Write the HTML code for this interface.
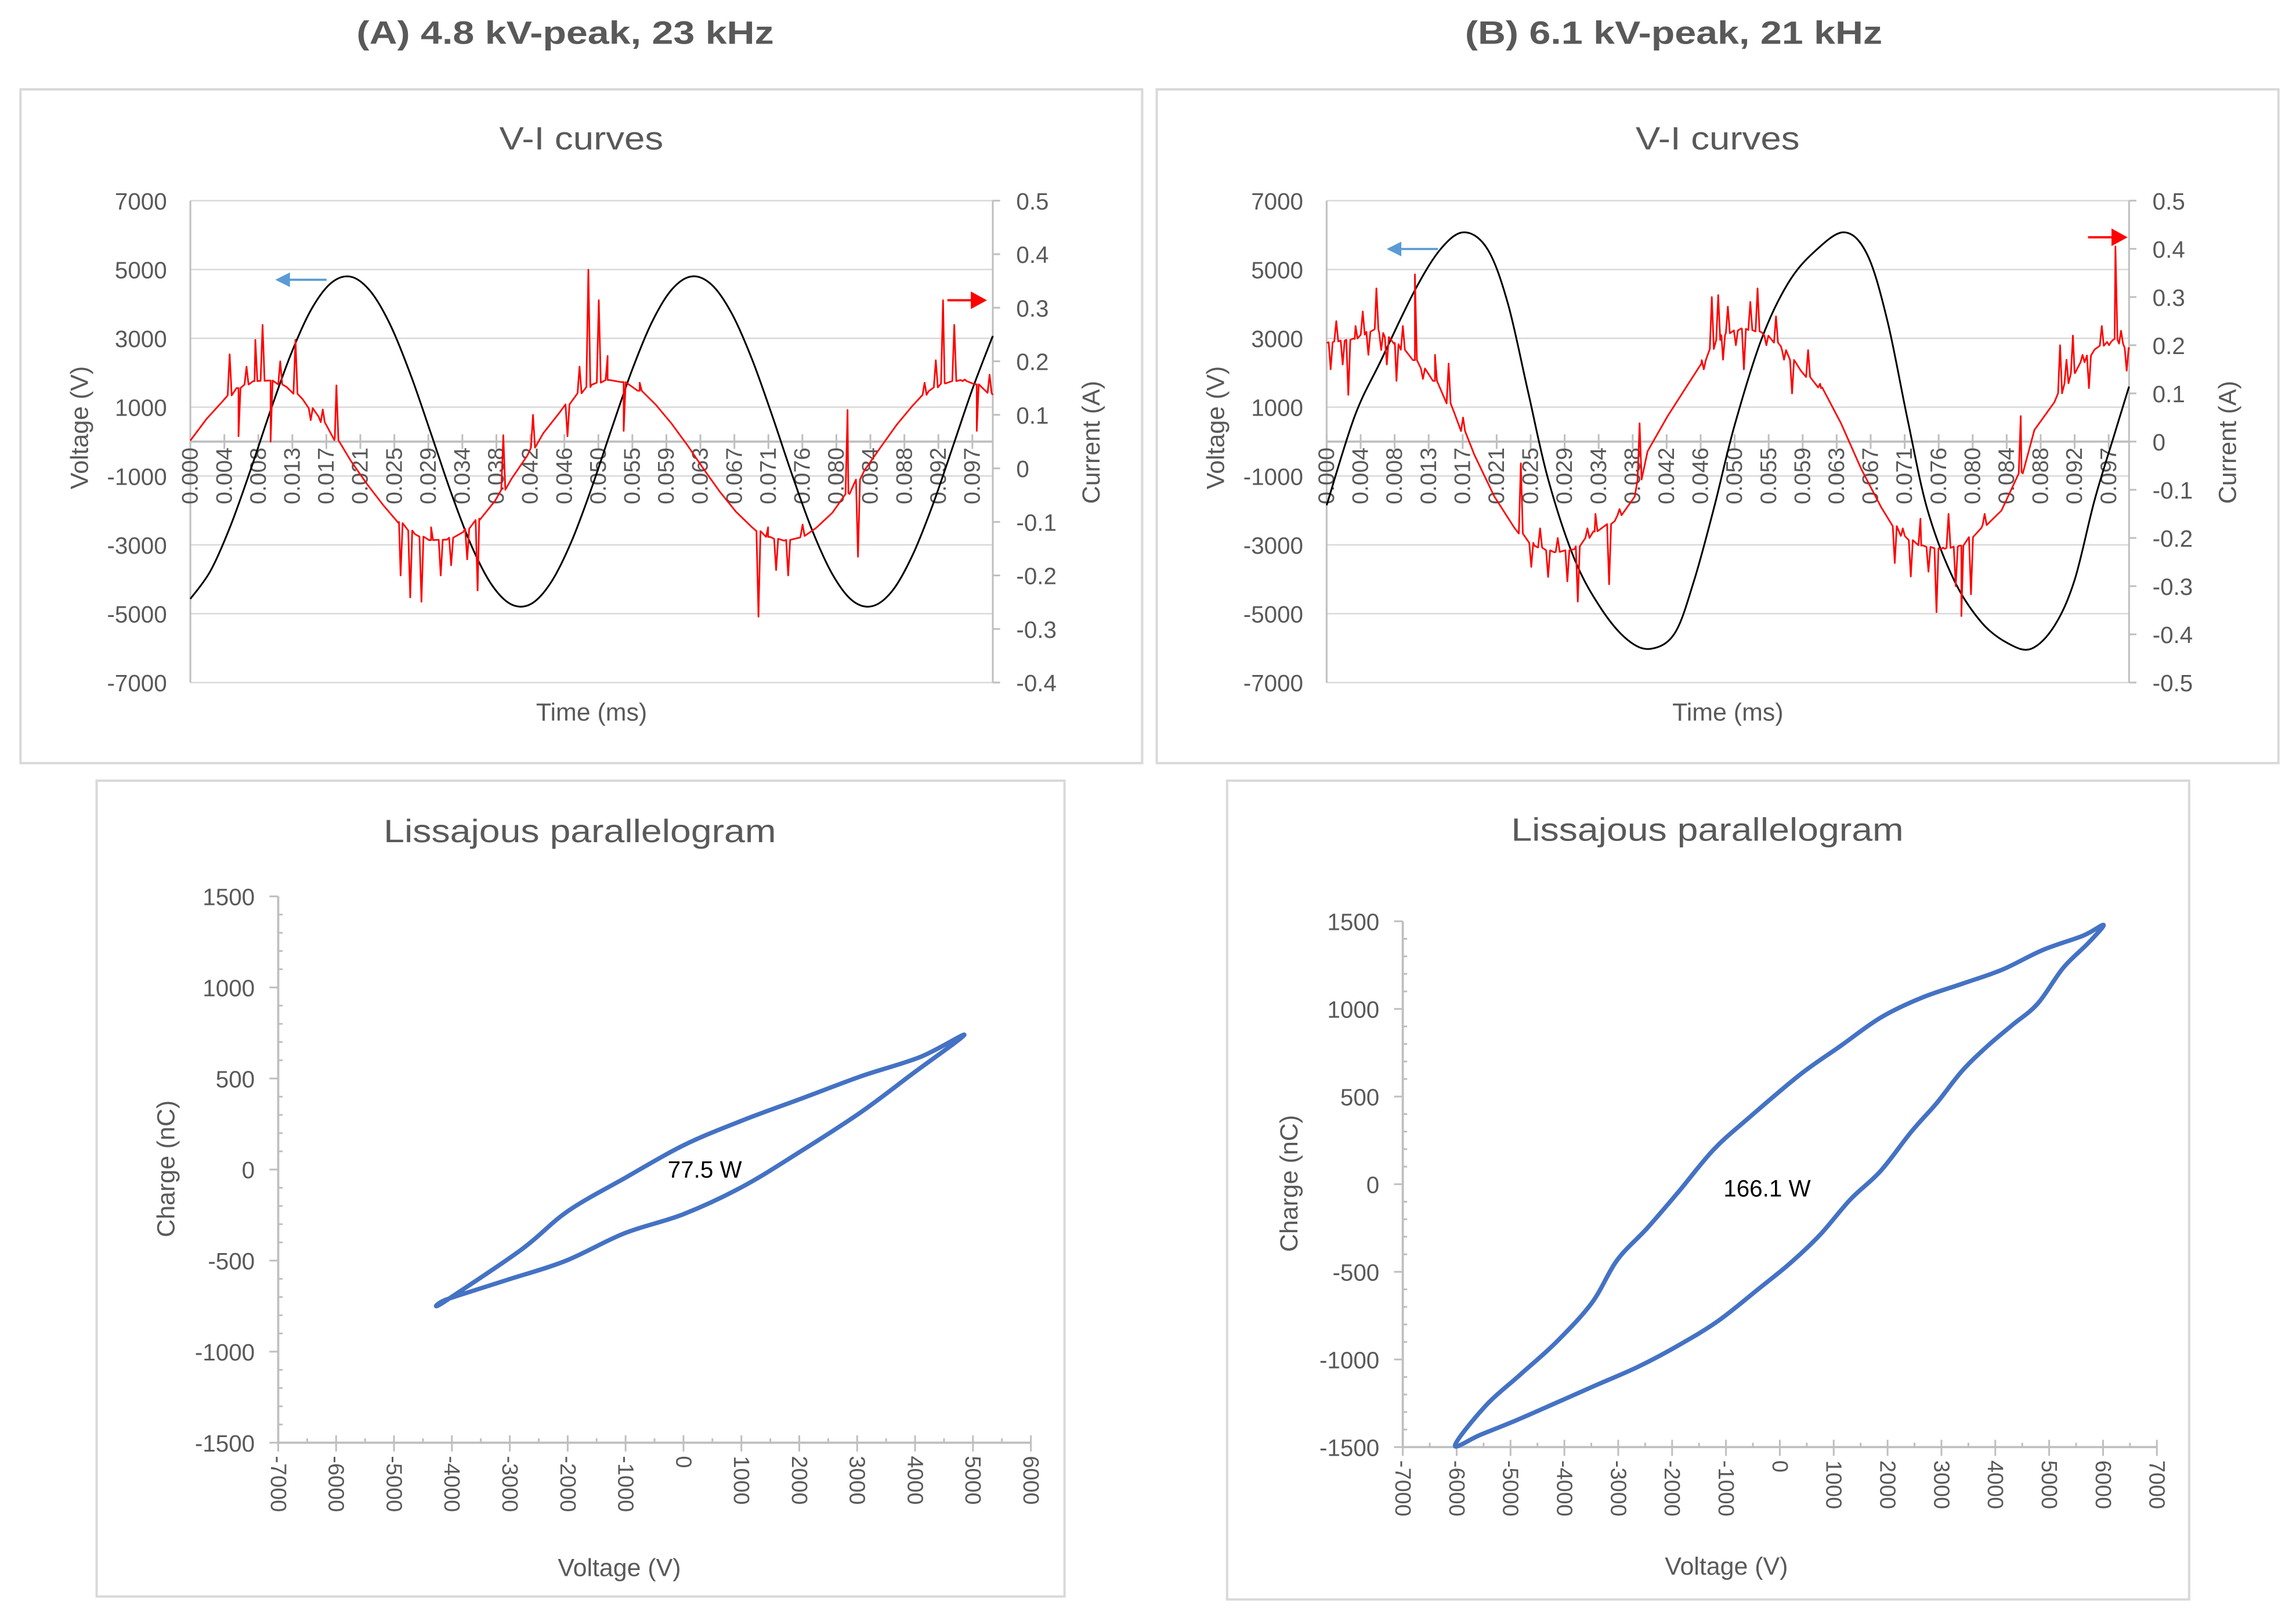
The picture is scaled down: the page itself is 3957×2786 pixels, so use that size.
<!DOCTYPE html>
<html><head><meta charset="utf-8"><title>V-I curves and Lissajous</title>
<style>
html,body{margin:0;padding:0;background:#fff;}
svg{display:block;}
text{font-family:"Liberation Sans",Arial,sans-serif;fill:#595959;}
</style></head>
<body>
<svg id="root" xmlns="http://www.w3.org/2000/svg" width="3957" height="2786" viewBox="0 0 1568 1104" preserveAspectRatio="none">
<rect x="0" y="0" width="1568" height="1104" fill="#fff"/>
<text x="386" y="30" text-anchor="middle" font-size="22" font-weight="bold" textLength="285" lengthAdjust="spacingAndGlyphs">(A) 4.8 kV-peak, 23 kHz</text>
<text x="1143" y="30" text-anchor="middle" font-size="22" font-weight="bold" textLength="285" lengthAdjust="spacingAndGlyphs">(B) 6.1 kV-peak, 21 kHz</text>
<g id="viA"></g>
<g id="viB"></g>
<g id="lsA"></g>
<g id="lsB"></g>
</svg>
<script>
// ---------- data: chart A voltage (t = i*0.0025 ms) ----------
const voltA = [-4570,-3760,-2450,-825,910,2520,3810,4600,4790,4350,3350,1910,225,-1490,-3010,-4140,-4730,-4710,-4070,-2900,-1350,375,2050,3460,4420,4800,4550,3710,2390,760,-970,-2580,-3850,-4620,-4780,-4330,-3300,-1850,-160,1550,3070];
const voltAStep = 0.0025;
// chart A current (t = i*0.002 ms)
const currA = [0.052,0.092,0.125,0.150,0.163,0.164,0.152,0.129,0.096,0.057,0.014,-0.029,-0.068,-0.100,-0.123,-0.134,-0.133,-0.119,-0.094,-0.060,-0.020,0.024,0.066,0.104,0.135,0.156,0.165,0.161,0.145,0.119,0.083,0.042,-0.002,-0.044,-0.081,-0.110,-0.128,-0.135,-0.129,-0.111,-0.083,-0.046,-0.004,0.039,0.081,0.117,0.144,0.160,0.165,0.157,0.137];
const currAStep = 0.002;
const spikeAT = [0.0049,0.0060,0.0070,0.0081,0.0090,0.0100,0.0112,0.0131,0.0150,0.0165,0.0182,0.0262,0.0274,0.0288,0.0300,0.0312,0.0325,0.0345,0.0358,0.0390,0.0427,0.0470,0.0485,0.0496,0.0509,0.0520,0.0540,0.0560,0.0708,0.0720,0.0730,0.0745,0.0763,0.0819,0.0832,0.0915,0.0929,0.0938,0.0952,0.0965,0.0980,0.0996];
const spikeAV = [0.213,0.060,0.19,0.240,0.268,0.050,0.20,0.240,0.090,0.11,0.155,-0.20,-0.241,-0.249,-0.11,-0.20,-0.181,-0.17,-0.228,0.062,0.100,0.060,0.19,0.371,0.314,0.21,0.070,0.16,-0.277,-0.11,-0.190,-0.20,-0.105,0.109,-0.165,0.16,0.202,0.314,0.268,0.166,0.07,0.175];
// ---------- chart B ----------
const voltBT = [0,0.0035,0.0068,0.0110,0.0143,0.0172,0.0201,0.0226,0.0251,0.0276,0.0309,0.0342,0.0375,0.0404,0.0434,0.0458,0.0483,0.0508,0.0542,0.0575,0.0608,0.0645,0.0674,0.0699,0.0724,0.0749,0.0782,0.0816,0.0849,0.0878,0.0907,0.0932,0.0957,0.0982,0.1];
const voltBV = [-1850,740,2370,4400,5620,6080,5570,4000,1450,-1090,-3420,-4850,-5760,-6020,-5560,-4030,-1900,440,2980,4600,5520,6080,5420,3490,640,-2000,-4030,-5250,-5860,-6020,-5350,-4030,-1700,230,1600];
const currBT = [0,0.0035,0.0060,0.0085,0.0110,0.0135,0.0159,0.0184,0.0209,0.0234,0.0259,0.0284,0.0309,0.0334,0.0359,0.0384,0.0400,0.0425,0.0450,0.0467,0.0492,0.0517,0.0542,0.0566,0.0591,0.0616,0.0641,0.0666,0.0691,0.0716,0.0741,0.0766,0.0791,0.0816,0.0841,0.0866,0.0882,0.0907,0.0932,0.0957,0.0982,0.1];
const currBV = [0.205,0.213,0.235,0.205,0.169,0.126,0.060,-0.027,-0.114,-0.179,-0.216,-0.230,-0.223,-0.187,-0.165,-0.114,-0.020,0.053,0.118,0.162,0.220,0.235,0.227,0.198,0.147,0.111,0.038,-0.056,-0.136,-0.194,-0.216,-0.223,-0.216,-0.179,-0.143,-0.063,0.024,0.082,0.147,0.191,0.213,0.191];
const spikeBT = [0.0005,0.0012,0.0020,0.0027,0.0036,0.0045,0.0052,0.0062,0.0068,0.0075,0.0087,0.0095,0.0110,0.0120,0.0135,0.0152,0.0170,0.0242,0.0255,0.0266,0.0276,0.0288,0.0300,0.0313,0.0325,0.0335,0.0352,0.0365,0.0390,0.0470,0.0480,0.0488,0.0494,0.0500,0.0510,0.0520,0.0528,0.0537,0.0548,0.0560,0.0570,0.0580,0.0600,0.0615,0.0708,0.0718,0.0728,0.0740,0.0750,0.0760,0.0768,0.0775,0.0784,0.0791,0.0803,0.0820,0.0865,0.0914,0.0922,0.0930,0.0942,0.0950,0.0966,0.0975,0.0983,0.0990,0.0997];
const spikeBV = [0.150,0.250,0.160,0.097,0.240,0.270,0.180,0.318,0.190,0.160,0.126,0.240,0.347,0.130,0.180,0.162,0.050,-0.045,-0.260,-0.180,-0.281,-0.200,-0.290,-0.332,-0.180,-0.150,-0.296,-0.140,0.038,0.150,0.300,0.304,0.170,0.280,0.200,0.150,0.290,0.318,0.200,0.260,0.170,0.100,0.190,0.120,-0.252,-0.180,-0.280,-0.160,-0.270,-0.354,-0.220,-0.150,-0.300,-0.362,-0.317,-0.150,0.053,0.200,0.170,0.220,0.180,0.111,0.240,0.200,0.405,0.230,0.147];
const timeLabels = ["0.000","0.004","0.008","0.013","0.017","0.021","0.025","0.029","0.034","0.038","0.042","0.046","0.050","0.055","0.059","0.063","0.067","0.071","0.076","0.080","0.084","0.088","0.092","0.097"];
const voltTicks = [7000,5000,3000,1000,-1000,-3000,-5000,-7000];
const currTicksA = [0.5,0.4,0.3,0.2,0.1,0,-0.1,-0.2,-0.3,-0.4];
const currTicksB = [0.5,0.4,0.3,0.2,0.1,0,-0.1,-0.2,-0.3,-0.4,-0.5];
// ---------- Lissajous ----------
const lissAV = [-4150,-2810,-2005,-1020,0,1020,2040,3065,4090,4850,3960,3065,2040,1020,0,-1020,-2040,-3065,-4090,-4150];
const lissAQ = [-730,-442,-230,-48,133,270,390,512,618,739,527,315,103,-94,-245,-350,-502,-608,-713,-730];
const lissBV = [-6030,-5470,-4810,-4150,-3490,-3020,-2460,-1890,-1230,-570,370,1120,1870,2620,3380,4130,4880,5630,6010,5730,5260,4790,4320,3850,3380,2910,2440,1870,1310,740,180,-390,-1140,-1890,-2640,-3400,-4150,-4900,-5560,-6030];
const lissBQ = [-1490,-1267,-1084,-901,-677,-433,-250,-47,197,380,624,787,950,1062,1143,1224,1336,1418,1479,1377,1234,1031,909,787,645,462,299,75,-87,-291,-454,-596,-779,-921,-1043,-1145,-1247,-1348,-1430,-1490];
const lissAXTicks = [-7000,-6000,-5000,-4000,-3000,-2000,-1000,0,1000,2000,3000,4000,5000,6000];
const lissBXTicks = [-7000,-6000,-5000,-4000,-3000,-2000,-1000,0,1000,2000,3000,4000,5000,6000,7000];
const lissYTicks = [1500,1000,500,0,-500,-1000,-1500];
const powerA = "77.5 W";
const powerB = "166.1 W";

const NS = "http://www.w3.org/2000/svg";
function mk(parent, tag, attrs, txt){
  const e = document.createElementNS(NS, tag);
  for (const k in attrs) e.setAttribute(k, attrs[k]);
  if (txt !== undefined) e.textContent = txt;
  parent.appendChild(e);
  return e;
}
function lin(d0,d1,r0,r1){ return v => r0 + (v-d0)/(d1-d0)*(r1-r0); }
function interp(ts, vs, t){
  for (let i=0;i<ts.length-1;i++){
    if (t>=ts[i] && t<=ts[i+1]) return vs[i] + (vs[i+1]-vs[i])*(t-ts[i])/(ts[i+1]-ts[i]);
  }
  return vs[vs.length-1];
}
// Catmull-Rom smooth path through pixel points
function smooth(p, closed){
  let d = 'M'+p[0][0].toFixed(2)+' '+p[0][1].toFixed(2);
  const n = p.length;
  for (let i=0;i<n-1;i++){
    const p0 = p[i>0?i-1:(closed?n-2:0)], p1=p[i], p2=p[i+1], p3=p[i+2<n?i+2:(closed?1:n-1)];
    const c1=[p1[0]+(p2[0]-p0[0])/6, p1[1]+(p2[1]-p0[1])/6];
    const c2=[p2[0]-(p3[0]-p1[0])/6, p2[1]-(p3[1]-p1[1])/6];
    d += ` C${c1[0].toFixed(2)} ${c1[1].toFixed(2)} ${c2[0].toFixed(2)} ${c2[1].toFixed(2)} ${p2[0].toFixed(2)} ${p2[1].toFixed(2)}`;
  }
  return d;
}

function drawVI(g, c){
  const box = mk(g,'rect',{x:c.bx,y:61,width:766,height:460,fill:'#fff',stroke:'#d9d9d9','stroke-width':1.6});
  
  
  const t = mk(g,'text',{x:c.bx+383,y:102,'text-anchor':'middle','font-size':22,textLength:112,lengthAdjust:'spacingAndGlyphs'},'V-I curves');
  
  
  const x = lin(0,0.1,c.x0,c.x1);
  const yv = lin(-7000,7000,466,137);
  const yi = lin(c.iMin,c.iMax,466,137);
  voltTicks.forEach(v=>{
    const gl = mk(g,'line',{x1:c.x0,x2:c.x1,y1:yv(v),y2:yv(v),stroke:'#d9d9d9','stroke-width':1});
    
    
    const tl = mk(g,'text',{x:c.x0-16,y:yv(v)+6,'text-anchor':'end','font-size':16},String(v));
    
    
  });
  const la = mk(g,'line',{x1:c.x0,x2:c.x0,y1:137,y2:466,stroke:'#bfbfbf','stroke-width':1.2});
  
  
  const ra = mk(g,'line',{x1:c.x1,x2:c.x1,y1:137,y2:466,stroke:'#bfbfbf','stroke-width':1.2});
  
  
  c.iTicks.forEach(v=>{
    const tk = mk(g,'line',{x1:c.x1,x2:c.x1+5,y1:yi(v),y2:yi(v),stroke:'#bfbfbf','stroke-width':1.2});
    
    
    const tl = mk(g,'text',{x:c.x1+16,y:yi(v)+6,'font-size':16},String(v));
    
    
  });
  const za = mk(g,'line',{x1:c.x0,x2:c.x1,y1:yv(0),y2:yv(0),stroke:'#bfbfbf','stroke-width':1.5});
  
  
  timeLabels.forEach((lab,i)=>{
    const tx = x(i*0.1/23.6);
    const tk = mk(g,'line',{x1:tx,x2:tx,y1:yv(0)-5,y2:yv(0)+5,stroke:'#bfbfbf','stroke-width':1.2});
    
    
    const tl = mk(g,'text',{x:0,y:0,'text-anchor':'end','font-size':15.5,transform:`translate(${tx+5},${yv(0)+4}) rotate(-90)`},lab);
    
    
  });
  // current series with spikes (drawn first, under voltage? reference: red over black mostly) 
  const pts = c.iT.map((tt,i)=>[tt,c.iV[i]]);
  c.sT.forEach((st,i)=>{
    const b = interp(c.iT,c.iV,st);
    pts.push([st-0.00025,b],[st,c.sV[i]],[st+0.00025,b]);
  });
  pts.sort((a,b)=>a[0]-b[0]);
  const d2 = pts.filter(p=>p[0]>=0 && p[0]<=0.1).map((p,i)=>(i?'L':'M')+x(p[0]).toFixed(2)+' '+yi(p[1]).toFixed(2)).join(' ');
  // voltage series
  const vp = mk(g,'path',{d:smooth(c.vT.map((tt,i)=>[x(tt),yv(c.vV[i])]),false),fill:'none',stroke:'#000','stroke-width':1.2,'stroke-linejoin':'round'});
  
  
  const cp = mk(g,'path',{d:d2,fill:'none',stroke:'#ff0000','stroke-width':1.1,'stroke-linejoin':'round'});
  
  
  const ba = mk(g,'path',{d:`M${c.bArrow[0]+35} ${c.bArrow[1]} L${c.bArrow[0]+8} ${c.bArrow[1]}`,stroke:'#5b9bd5','stroke-width':1.5,fill:'none'});
  
  
  const bh = mk(g,'path',{d:`M${c.bArrow[0]} ${c.bArrow[1]} L${c.bArrow[0]+10} ${c.bArrow[1]-5} L${c.bArrow[0]+10} ${c.bArrow[1]+5} Z`,fill:'#5b9bd5'});
  
  
  const rr = mk(g,'path',{d:`M${c.rArrow[0]-27} ${c.rArrow[1]} L${c.rArrow[0]-8} ${c.rArrow[1]}`,stroke:'#ff0000','stroke-width':1.5,fill:'none'});
  
  
  const rh = mk(g,'path',{d:`M${c.rArrow[0]} ${c.rArrow[1]} L${c.rArrow[0]-11} ${c.rArrow[1]-6} L${c.rArrow[0]-11} ${c.rArrow[1]+6} Z`,fill:'#ff0000'});
  
  
  const xt = mk(g,'text',{x:(c.x0+c.x1)/2,y:492,'text-anchor':'middle','font-size':17},'Time (ms)');
  
  
  const yl = mk(g,'text',{x:0,y:0,'text-anchor':'middle','font-size':17,transform:`translate(${c.x0-70},292) rotate(-90)`},'Voltage (V)');
  
  
  const yr = mk(g,'text',{x:0,y:0,'text-anchor':'middle','font-size':17,transform:`translate(${c.x1+73},302) rotate(-90)`},'Current (A)');
  
  
}

function drawLiss(g, c){
  const box = mk(g,'rect',{x:c.bx,y:c.by,width:c.bw,height:c.bh,fill:'#fff',stroke:'#d9d9d9','stroke-width':1.6});
  
  
  const t = mk(g,'text',{x:c.tx,y:c.ty,'text-anchor':'middle','font-size':22,textLength:268,lengthAdjust:'spacingAndGlyphs'},'Lissajous parallelogram');
  
  
  const xs = lin(c.xTicks[0],c.xTicks[c.xTicks.length-1],c.x0,c.x1);
  const ys = lin(-1500,1500,c.y1,c.y0);
  const ya = mk(g,'line',{x1:c.x0,x2:c.x0,y1:c.y0,y2:c.y1,stroke:'#bfbfbf','stroke-width':1.5});
  
  
  const xa = mk(g,'line',{x1:c.x0,x2:c.x1,y1:c.y1,y2:c.y1,stroke:'#bfbfbf','stroke-width':1.5});
  
  
  for (let q=-1500;q<=1500;q+=100){
    const major = q%500===0;
    const tk = mk(g,'line',{x1:c.x0-(major?6:0),x2:c.x0+(major?0:3),y1:ys(q),y2:ys(q),stroke:'#bfbfbf','stroke-width':1.2});
    
    
  }
  lissYTicks.forEach(v=>{
    const tl = mk(g,'text',{x:c.x0-16,y:ys(v)+6,'text-anchor':'end','font-size':16},String(v));
    
    
  });
  const xmin=c.xTicks[0], xmax=c.xTicks[c.xTicks.length-1];
  for (let v=xmin; v<=xmax; v+=500){
    const major = v%1000===0;
    const tk = mk(g,'line',{x1:xs(v),x2:xs(v),y1:c.y1-(major?5:3),y2:c.y1+(major?6:0),stroke:'#bfbfbf','stroke-width':1.2});
    
    
  }
  c.xTicks.forEach(v=>{
    const tl = mk(g,'text',{x:0,y:0,'font-size':15,transform:`translate(${xs(v)-5},${c.y1+9}) rotate(90)`},String(v));
    
    
  });
  const p = mk(g,'path',{d:smooth(c.V.map((v,i)=>[xs(v),ys(c.Q[i])]),true)+' Z',fill:'none',stroke:'#4472c4','stroke-width':3,'stroke-linejoin':'round'});
  
  
  const an = mk(g,'text',{x:c.ax,y:c.ay,'font-size':16,style:'fill:#000'},c.power);
  
  
  const xt = mk(g,'text',{x:c.xtx,y:c.xty,'text-anchor':'middle','font-size':17},'Voltage (V)');
  
  
  const yt = mk(g,'text',{x:0,y:0,'text-anchor':'middle','font-size':17,transform:`translate(${c.ytx},${c.yty}) rotate(-90)`},'Charge (nC)');
  
  
}

drawVI(document.getElementById('viA'),{bx:14,x0:130,x1:678,iMin:-0.4,iMax:0.5,iTicks:currTicksA,
  vT:voltA.map((_,i)=>i*voltAStep),vV:voltA,iT:currA.map((_,i)=>i*currAStep),iV:currA,sT:spikeAT,sV:spikeAV,
  bArrow:[188,191],rArrow:[674,205]});
drawVI(document.getElementById('viB'),{bx:790,x0:906,x1:1454,iMin:-0.5,iMax:0.5,iTicks:currTicksB,
  vT:voltBT,vV:voltBV,iT:currBT,iV:currBV,sT:spikeBT,sV:spikeBV,
  bArrow:[947,170],rArrow:[1453,162]});
drawLiss(document.getElementById('lsA'),{bx:66,by:533,bw:661,bh:557,tx:396,ty:575,x0:190,x1:704,y0:612,y1:985,
  xTicks:lissAXTicks,V:lissAV,Q:lissAQ,ax:456,ay:804,power:powerA,xtx:423,xty:1076,ytx:119,yty:798});
drawLiss(document.getElementById('lsB'),{bx:838,by:533,bw:657,bh:559,tx:1166,ty:574,x0:958,x1:1473,y0:629,y1:988,
  xTicks:lissBXTicks,V:lissBV,Q:lissBQ,ax:1177,ay:817,power:powerB,xtx:1179,xty:1075,ytx:886,yty:808});
</script>
</body></html>
